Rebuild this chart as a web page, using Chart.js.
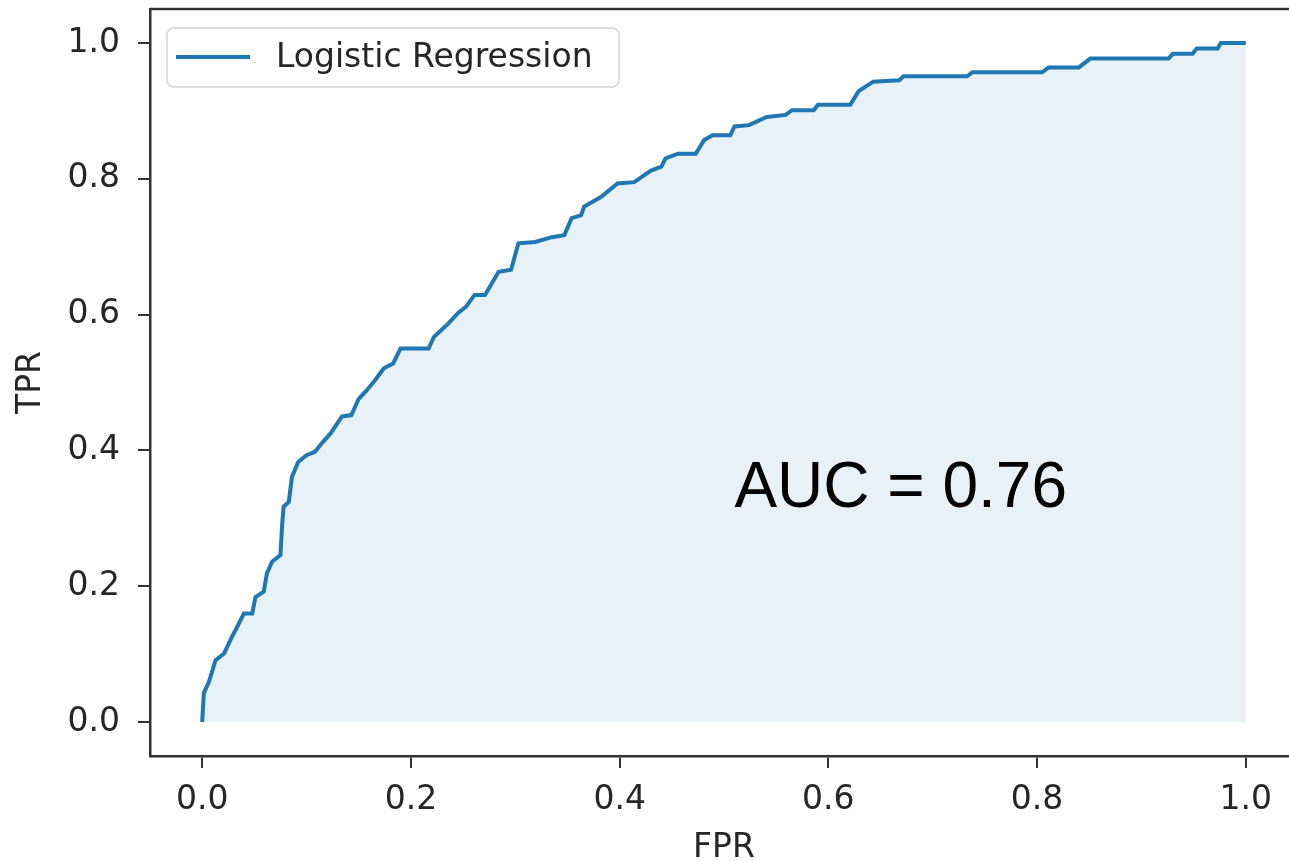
<!DOCTYPE html>
<html>
<head>
<meta charset="utf-8">
<script src="https://cdn.jsdelivr.net/npm/chart.js@4"></script>
<style>
  html, body { margin: 0; padding: 0; background: #fff; overflow: hidden; }
</style>
</head>
<body>
<canvas id="roc-chart" width="1310" height="861"></canvas>
<script>
// ROC points (false positive rate / true positive rate)
const fpr = [0, 0.0016, 0.0064, 0.0128, 0.021, 0.0287, 0.0335, 0.040, 0.048, 0.051,
  0.059, 0.062, 0.067, 0.075, 0.0765, 0.078, 0.083, 0.086, 0.092, 0.100,
  0.108, 0.116, 0.123, 0.134, 0.143, 0.150, 0.158, 0.166, 0.174, 0.183,
  0.190, 0.217, 0.222, 0.236, 0.245, 0.253, 0.261, 0.271, 0.284, 0.296,
  0.303, 0.319, 0.335, 0.347, 0.354, 0.363, 0.366, 0.382, 0.398, 0.414,
  0.430, 0.440, 0.444, 0.456, 0.473, 0.481, 0.489, 0.506, 0.510, 0.524,
  0.541, 0.559, 0.565, 0.586, 0.590, 0.621, 0.629, 0.643, 0.668, 0.672,
  0.733, 0.738, 0.805, 0.811, 0.840, 0.851, 0.926, 0.930, 0.949, 0.953,
  0.973, 0.976, 1.0];
const tpr = [0, 0.043, 0.059, 0.091, 0.101, 0.126, 0.140, 0.160, 0.160, 0.184,
  0.192, 0.219, 0.236, 0.246, 0.288, 0.317, 0.324, 0.361, 0.383, 0.393,
  0.398, 0.413, 0.425, 0.450, 0.452, 0.476, 0.489, 0.504, 0.521, 0.528,
  0.550, 0.550, 0.567, 0.587, 0.602, 0.612, 0.629, 0.629, 0.663, 0.666,
  0.705, 0.707, 0.714, 0.717, 0.742, 0.746, 0.759, 0.773, 0.793, 0.795,
  0.812, 0.818, 0.830, 0.837, 0.837, 0.857, 0.864, 0.864, 0.877, 0.879,
  0.891, 0.894, 0.901, 0.901, 0.909, 0.909, 0.929, 0.943, 0.945, 0.951,
  0.951, 0.957, 0.957, 0.964, 0.964, 0.977, 0.977, 0.984, 0.984, 0.992,
  0.992, 1.0, 1.0];

const tickValues = [0, 0.2, 0.4, 0.6, 0.8, 1.0];
const seriesLabel = 'Logistic Regression';
const xTitle = 'FPR';
const yTitle = 'TPR';
const aucLabel = 'AUC = 0.76';
const aucAt = [0.51, 0.317];

const blue = '#1f77b4';
const ink = '#262626';
const face = '"DejaVu Sans", sans-serif';

// matplotlib-ish ticks: only the round values, marks outside the frame
function fixedTicks(scale) {
  scale.ticks = tickValues.map(v => ({ value: v }));
}

// top/right spines, the AUC note and the legend box inside the axes
const extras = {
  id: 'extras',
  afterDatasetsDraw(chart) {
    const { ctx, chartArea: a, scales: { x, y } } = chart;
    ctx.save();
    ctx.strokeStyle = '#333';
    ctx.lineWidth = 2.5;
    ctx.beginPath();
    ctx.moveTo(a.left, a.top);
    ctx.lineTo(a.right, a.top);
    ctx.lineTo(a.right, a.bottom);
    ctx.stroke();

    ctx.fillStyle = '#000';
    ctx.font = '64px "Liberation Sans", Arial, sans-serif';
    ctx.textAlign = 'left';
    ctx.textBaseline = 'alphabetic';
    ctx.fillText(aucLabel, x.getPixelForValue(aucAt[0]), y.getPixelForValue(aucAt[1]));

    const ds = chart.data.datasets[0];
    const lx = a.left + 17, ly = a.top + 19, lw = 452, lh = 59;
    ctx.beginPath();
    ctx.roundRect(lx, ly, lw, lh, 7);
    ctx.fillStyle = 'rgba(255,255,255,0.8)';
    ctx.fill();
    ctx.strokeStyle = '#d4d4d4';
    ctx.lineWidth = 1.5;
    ctx.stroke();

    ctx.strokeStyle = ds.borderColor;
    ctx.lineWidth = 4;
    ctx.beginPath();
    ctx.moveTo(lx + 9, ly + 29);
    ctx.lineTo(lx + 83, ly + 29);
    ctx.stroke();

    ctx.fillStyle = ink;
    ctx.font = '33px ' + face;
    ctx.textBaseline = 'middle';
    ctx.fillText(ds.label, lx + 109, ly + 30);
    ctx.restore();
  }
};

const ctx = document.getElementById('roc-chart').getContext('2d');
new Chart(ctx, {
  type: 'line',
  data: {
    datasets: [{
      label: seriesLabel,
      data: fpr.map((f, i) => ({ x: f, y: tpr[i] })),
      borderColor: blue,
      borderWidth: 4,
      backgroundColor: 'rgba(31,119,180,0.1)',
      fill: 'origin',
      pointRadius: 0,
      tension: 0
    }]
  },
  options: {
    responsive: false,
    animation: false,
    layout: { padding: { top: 9, right: 12, left: 0, bottom: 0 } },
    plugins: {
      legend: { display: false },
      tooltip: { enabled: false }
    },
    scales: {
      x: {
        type: 'linear',
        min: -0.05,
        max: 1.05,
        afterBuildTicks: fixedTicks,
        afterFit: s => { s.height = 105; s.paddingLeft = 0; s.paddingRight = 0; },
        grid: { drawOnChartArea: false, drawTicks: true, tickLength: 12, color: '#333', lineWidth: 2 },
        border: { color: '#333', width: 2.5 },
        ticks: { color: ink, font: { family: face, size: 33 }, padding: 13, callback: v => v.toFixed(1) },
        title: { display: true, text: xTitle, color: ink, font: { family: face, size: 33, lineHeight: 0.75 }, padding: { top: 0, bottom: 0 } }
      },
      y: {
        type: 'linear',
        min: -0.05,
        max: 1.05,
        afterBuildTicks: fixedTicks,
        afterFit: s => { s.width = 150; s.paddingTop = 0; s.paddingBottom = 0; },
        grid: { drawOnChartArea: false, drawTicks: true, tickLength: 12, color: '#333', lineWidth: 2 },
        border: { color: '#333', width: 2.5 },
        ticks: { color: ink, font: { family: face, size: 33 }, padding: 18, callback: v => v.toFixed(1) },
        title: { display: true, text: yTitle, color: ink, font: { family: face, size: 33, lineHeight: 1.2 }, padding: { top: 12, bottom: 0 } }
      }
    }
  },
  plugins: [extras]
});
</script>
</body>
</html>
